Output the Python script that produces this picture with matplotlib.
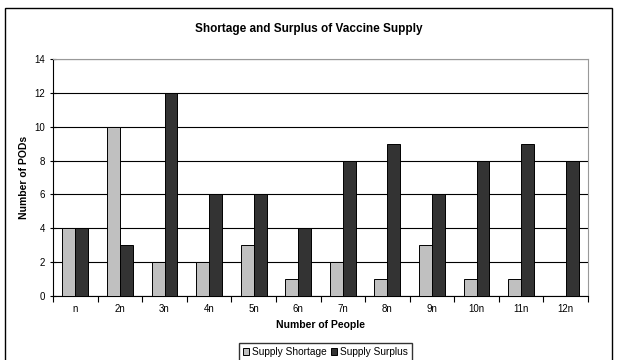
import matplotlib.pyplot as plt
import numpy as np
from matplotlib.patches import Rectangle

plt.rcParams['font.family'] = ['Liberation Sans', 'DejaVu Sans']

# Dane
categories = ['n', '2n', '3n', '4n', '5n', '6n', '7n', '8n', '9n', '10n', '11n', '12n']
shortage = [4, 10, 2, 2, 3, 1, 2, 1, 3, 1, 1, 0]
surplus = [4, 3, 12, 6, 6, 4, 8, 9, 6, 8, 9, 8]

fig = plt.figure(figsize=(6.17, 3.6), dpi=100)
ax = fig.add_axes([0.086, 0.178, 0.867, 0.658])

# Ramka wokół całego wykresu
fig.patches.append(Rectangle((5 / 617, -0.05), 607 / 617, 1.05 - 8 / 360,
                             transform=fig.transFigure, fill=False,
                             edgecolor='black', linewidth=1.0))

x = np.arange(len(categories))
w = 0.29
ax.bar(x - w / 2, shortage, w, color='#c0c0c0', edgecolor='black',
       linewidth=0.7, label='Supply Shortage', zorder=3)
ax.bar(x + w / 2, surplus, w, color='#333333', edgecolor='black',
       linewidth=0.7, label='Supply Surplus', zorder=3)

ax.set_xlim(-0.5, len(categories) - 0.5)
ax.set_ylim(0, 14)
ax.set_yticks(range(0, 15, 2))
ax.yaxis.grid(True, color='black', linewidth=0.8, zorder=0)

ax.set_xticks(x)
ax.set_xticklabels(categories, fontsize=7)
ax.tick_params(axis='x', length=0, pad=6)
ax.set_xticks(np.arange(-0.5, len(categories), 1), minor=True)
ax.tick_params(axis='x', which='minor', length=4, direction='out', width=0.8)
ax.tick_params(axis='y', labelsize=7, length=5, width=0.8, direction='inout', pad=3)

for side in ['top', 'right']:
    ax.spines[side].set_color('#999999')
ax.spines['left'].set_color('black')
ax.spines['bottom'].set_color('black')

ax.set_xlabel('Number of People', fontsize=7.5, fontweight='bold', labelpad=4)
ax.set_ylabel('Number of PODs', fontsize=7.5, fontweight='bold', labelpad=4)
fig.suptitle('Shortage and Surplus of Vaccine Supply', fontsize=8.5,
             fontweight='bold', y=0.935)

fig.legend(loc='upper center', bbox_to_anchor=(0.527, 0.047), ncol=2,
           fontsize=7.3, frameon=True, fancybox=False, edgecolor='black',
           handlelength=0.6, handleheight=0.6, handletextpad=0.3,
           columnspacing=0.4, borderpad=0.4, borderaxespad=0)

fig.savefig('out.png', dpi=100)
